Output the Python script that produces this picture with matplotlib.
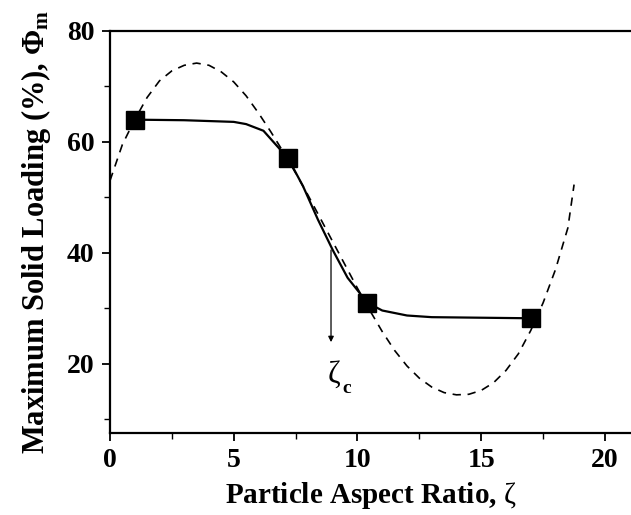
import matplotlib
matplotlib.use("Agg")
import matplotlib.pyplot as plt
from matplotlib.ticker import MultipleLocator

plt.rcParams['font.family'] = ['Liberation Serif', 'DejaVu Serif']
plt.rcParams['mathtext.fontset'] = 'custom'
plt.rcParams['mathtext.rm'] = 'Liberation Serif'
plt.rcParams['mathtext.bf'] = 'Liberation Serif:bold'

# measured points
pts_x = [1.0, 7.2, 10.4, 17.0]
pts_y = [64.0, 57.0, 31.0, 28.2]

# solid fitted curve
fit_x = [1.0, 3.0, 5.0, 5.5, 6.2, 7.2, 7.8, 8.4, 9.0, 9.6, 10.4, 11.0, 12.0, 13.0, 15.0, 17.0]
fit_y = [64.0, 63.9, 63.6, 63.2, 62.0, 57.0, 52.0, 46.0, 40.5, 35.5, 31.0, 29.6, 28.7, 28.4, 28.3, 28.2]

# dashed polynomial curve
poly_x = [0.0, 0.5, 1.0, 1.5, 2.0, 2.5, 3.0, 3.5, 4.0, 4.5, 5.0, 5.5, 6.0, 6.5, 7.0, 7.5, 8.0, 8.5,
          9.0, 9.5, 10.0, 10.5, 11.0, 11.5, 12.0, 12.5, 13.0, 13.5, 14.0, 14.5, 15.0, 15.5, 16.0,
          16.5, 17.0, 17.5, 18.0, 18.5, 18.75]
poly_y = [53.0, 59.5, 64.0, 68.0, 71.0, 72.8, 73.8, 74.2, 73.8, 72.6, 70.8, 68.3, 65.2, 61.8, 58.2, 54.4,
          50.4, 46.2, 42.0, 37.8, 33.6, 29.6, 25.8, 22.4, 19.6, 17.4, 15.8, 14.8, 14.4, 14.5, 15.2, 16.6,
          18.8, 21.8, 26.0, 31.0, 37.0, 44.5, 52.3]

xticks = [0, 5, 10, 15, 20]
yticks = [20, 40, 60, 80]

fig = plt.figure(figsize=(6.31, 5.15), dpi=100)
ax = fig.add_axes([0.1743, 0.159, 0.8257, 0.781])

ax.plot(poly_x, poly_y, color='black', lw=1.2, ls=(0, (5, 4)))
ax.plot(fit_x, fit_y, color='black', lw=1.6)
ax.plot(pts_x, pts_y, ls='none', marker='s', ms=13.5, color='black')

ax.annotate('', xy=(8.93, 23.4), xytext=(8.93, 41.0),
            arrowprops=dict(arrowstyle='-|>', color='black', lw=0.9, mutation_scale=8))
ax.text(9.05, 18.0, 'ζ', fontsize=22, ha='center', va='center')
ax.text(9.55, 15.6, 'c', fontsize=14, fontweight='bold', ha='center', va='center')

ax.set_xlim(0, 21.05)
ax.set_ylim(7.5, 80)
ax.set_xticks(xticks)
ax.set_yticks(yticks)
ax.xaxis.set_minor_locator(MultipleLocator(2.5))
ax.yaxis.set_minor_locator(MultipleLocator(10))
ax.spines['right'].set_visible(False)
for s in ['left', 'bottom', 'top']:
    ax.spines[s].set_linewidth(1.6)
ax.tick_params(which='major', direction='out', length=6, width=1.3, labelsize=20, pad=5)
ax.tick_params(which='minor', direction='out', length=4, width=1.0)
for lab in ax.get_xticklabels() + ax.get_yticklabels():
    lab.set_fontweight('bold')

ax.set_xlabel(r'Particle Aspect Ratio, $\mathrm{ζ}$', fontsize=21, fontweight='bold', labelpad=5)
ax.set_ylabel(r'Maximum Solid Loading (%), $\mathbf{\Phi_m}$', fontsize=22, fontweight='bold', labelpad=10)

fig.savefig('out.png', dpi=100)
